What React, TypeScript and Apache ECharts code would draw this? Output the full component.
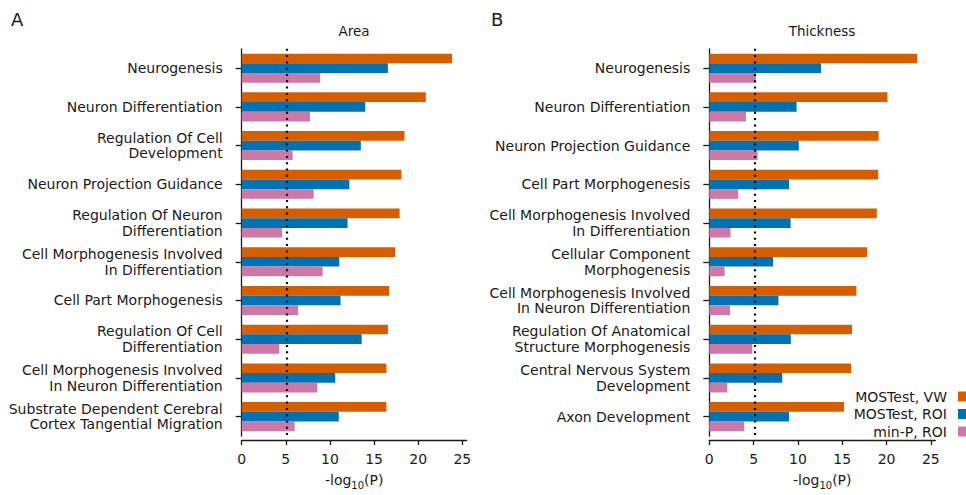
import React, { useEffect, useRef } from "react";
import * as echarts from "echarts";

const areaCategories = [
  "Neurogenesis",
  "Neuron Differentiation",
  "Regulation Of Cell\nDevelopment",
  "Neuron Projection Guidance",
  "Regulation Of Neuron\nDifferentiation",
  "Cell Morphogenesis Involved\nIn Differentiation",
  "Cell Part Morphogenesis",
  "Regulation Of Cell\nDifferentiation",
  "Cell Morphogenesis Involved\nIn Neuron Differentiation",
  "Substrate Dependent Cerebral\nCortex Tangential Migration",
];
const areaVW = [23.85, 20.87, 18.45, 18.1, 17.9, 17.4, 16.7, 16.57, 16.4, 16.4];
const areaROI = [16.57, 14.0, 13.5, 12.2, 12.0, 11.06, 11.2, 13.6, 10.6, 11.0];
const areaMinP = [8.9, 7.74, 5.77, 8.15, 4.57, 9.17, 6.4, 4.26, 8.57, 6.0];

const thickCategories = [
  "Neurogenesis",
  "Neuron Differentiation",
  "Neuron Projection Guidance",
  "Cell Part Morphogenesis",
  "Cell Morphogenesis Involved\nIn Differentiation",
  "Cellular Component\nMorphogenesis",
  "Cell Morphogenesis Involved\nIn Neuron Differentiation",
  "Regulation Of Anatomical\nStructure Morphogenesis",
  "Central Nervous System\nDevelopment",
  "Axon Development",
];
const thickVW = [23.46, 20.1, 19.1, 19.06, 18.9, 17.8, 16.6, 16.1, 16.0, 15.2];
const thickROI = [12.6, 9.85, 10.1, 9.0, 9.17, 7.2, 7.8, 9.2, 8.23, 9.0];
const thickMinP = [5.26, 4.14, 5.45, 3.27, 2.4, 1.73, 2.33, 4.85, 2.03, 3.95];

const xTicks = [0, 5, 10, 15, 20, 25];
const threshold = 5.15;
const seriesNames = ["MOSTest, VW", "MOSTest, ROI", "min-P, ROI"];
const colors = ["#D55E00", "#0072B2", "#CC79A7"];

const FONT = "DejaVu Sans";
const INK = "#1a1a1a";

export default function App() {
  const ref = useRef<HTMLDivElement>(null);
  useEffect(() => {
    if (!ref.current) return;
    const chart = echarts.init(ref.current, null, { renderer: "svg" });

    const xAxisBase = (gridIndex: number) => ({
      type: "value",
      gridIndex,
      min: 0,
      max: 25.5,
      offset: 4,
      splitLine: { show: false },
      axisLine: { show: true, lineStyle: { color: INK, width: 1.3 } },
      axisTick: { show: true, length: 5, customValues: xTicks, lineStyle: { color: INK, width: 1.3 } },
      axisLabel: { customValues: xTicks, color: INK, fontFamily: FONT, fontSize: 14, margin: 12 },
      name: "-log{sub|10}(P)",
      nameLocation: "middle",
      nameGap: 29,
      nameTextStyle: {
        color: INK,
        fontFamily: FONT,
        fontSize: 14,
        rich: { sub: { fontSize: 10, fontFamily: FONT, color: INK, lineHeight: 21, verticalAlign: "bottom" } },
      },
    });
    const yAxisBase = (gridIndex: number, data: string[]) => ({
      type: "category",
      gridIndex,
      data,
      inverse: true,
      offset: 4,
      axisLine: { show: true, lineStyle: { color: INK, width: 1.3 } },
      axisTick: { show: true, length: 6, alignWithLabel: true, lineStyle: { color: INK, width: 1.3 } },
      axisLabel: { color: INK, fontFamily: FONT, fontSize: 14, lineHeight: 15.5, margin: 15, align: "right" },
      splitLine: { show: false },
    });

    const makeSeries = (gi: number, vals: number[][]) =>
      vals.map((v, i) => ({
        type: "bar",
        name: seriesNames[i],
        xAxisIndex: gi,
        yAxisIndex: gi,
        data: v,
        barGap: "0%",
        barCategoryGap: "25%",
        itemStyle: { color: colors[i] },
        markLine:
          i === 0
            ? {
                silent: true,
                symbol: "none",
                label: { show: false },
                lineStyle: { color: "#000", type: [2, 4.3], width: 2.2 },
                data: [{ xAxis: threshold }],
              }
            : undefined,
      }));

    chart.setOption({
      animation: false,
      backgroundColor: "#fff",
      textStyle: { fontFamily: FONT },
      grid: [
        { left: 241.7, top: 48.8, width: 225, height: 390, containLabel: false },
        { left: 709.3, top: 48.8, width: 226, height: 390, containLabel: false },
      ],
      xAxis: [xAxisBase(0), xAxisBase(1)],
      yAxis: [yAxisBase(0, areaCategories), yAxisBase(1, thickCategories)],
      legend: {
        orient: "vertical",
        right: 0,
        top: 389,
        padding: 0,
        align: "right",
        icon: "rect",
        itemWidth: 8,
        itemHeight: 10,
        itemGap: 2.5,
        data: seriesNames,
        textStyle: { color: INK, fontFamily: FONT, fontSize: 14, lineHeight: 15, padding: [0, 6, 0, 0] },
      },
      graphic: [
        { type: "text", left: 11, top: 10, style: { text: "A", fontFamily: FONT, fontSize: 18, fill: INK } },
        { type: "text", left: 491, top: 10, style: { text: "B", fontFamily: FONT, fontSize: 18, fill: INK } },
        { type: "text", x: 354, y: 31, style: { text: "Area", fontFamily: FONT, fontSize: 13.5, fill: INK, textAlign: "center", textVerticalAlign: "middle" } },
        { type: "text", x: 822, y: 31, style: { text: "Thickness", fontFamily: FONT, fontSize: 13.5, fill: INK, textAlign: "center", textVerticalAlign: "middle" } },
      ],
      series: [
        ...makeSeries(0, [areaVW, areaROI, areaMinP]),
        ...makeSeries(1, [thickVW, thickROI, thickMinP]),
      ],
    });
    return () => chart.dispose();
  }, []);
  return (
    <div
      ref={ref}
      style={{ position: "fixed", left: 0, top: 0, width: 966, height: 495, background: "#fff" }}
    />
  );
}
